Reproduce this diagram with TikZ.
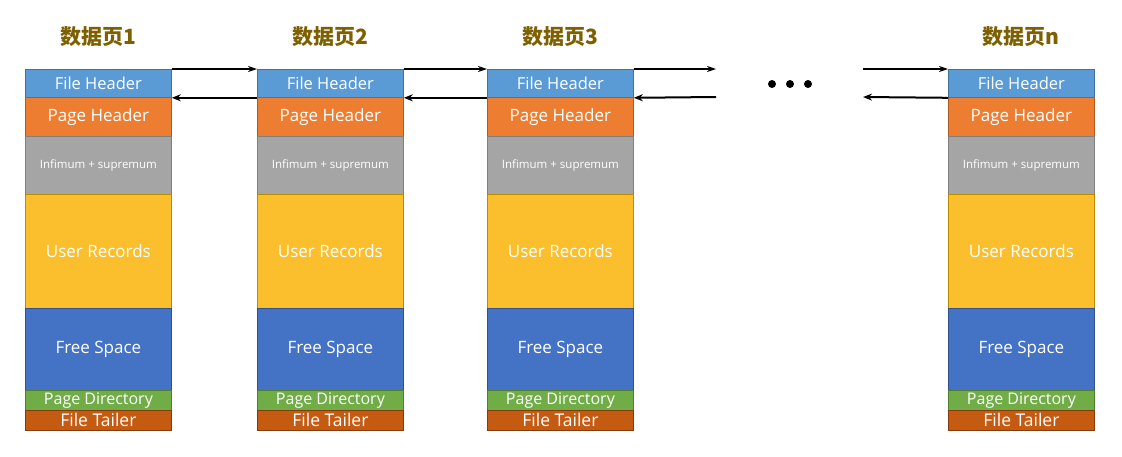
\documentclass[tikz,border=0pt]{standalone}
\usepackage{fontspec}
\setmainfont{Open Sans}
\newfontfamily\cjk{Noto Sans CJK SC}
\usetikzlibrary{arrows.meta}
\definecolor{fhF}{HTML}{5B9BD5}\definecolor{fhB}{HTML}{41719C}
\definecolor{phF}{HTML}{ED7D31}\definecolor{phB}{HTML}{AE5A21}
\definecolor{inF}{HTML}{A5A5A5}\definecolor{inB}{HTML}{7F7F7F}
\definecolor{urF}{HTML}{FBBF2D}\definecolor{urB}{HTML}{BC8C00}
\definecolor{fsF}{HTML}{4472C4}\definecolor{fsB}{HTML}{2F528F}
\definecolor{pdF}{HTML}{70AD47}\definecolor{pdB}{HTML}{507E32}
\definecolor{ftF}{HTML}{C55A11}\definecolor{ftB}{HTML}{843C0C}
\definecolor{titleC}{HTML}{7F6000}
\tikzset{
  seg/.style={draw=#1B, fill=#1F, line width=0.8pt, minimum width=146pt, inner sep=0pt, anchor=north west, text=white},
  title/.style={font=\cjk\bfseries\fontsize{21}{23}\selectfont, text=titleC, inner sep=0pt},
  fwd/.style={line width=1.1pt, -{Stealth[length=9pt,width=6pt]}},
  bwd/.style={line width=2pt, -{Stealth[length=9pt,width=7pt]}},
  dot/.style={circle, fill=black, inner sep=0pt, minimum size=8pt},
}
\begin{document}
\begin{tikzpicture}[x=1pt,y=-1pt]
\useasboundingbox (0,0) rectangle (1122,456);
\foreach \i/\x/\t in {1/25/1,2/257/2,3/487/3,n/948/n}{
  \node[title] (t\i) at (\x+73,37) {数据页\t};
  \node[seg=fh, minimum height=28pt, font=\fontsize{16.5}{18}\selectfont] (fh\i) at (\x,69) {File Header};
  \node[seg=ph, minimum height=39pt, font=\fontsize{17}{19}\selectfont] (ph\i) at (\x,97) {Page Header};
  \node[seg=in, minimum height=58pt, font=\fontsize{11.5}{13}\selectfont] (in\i) at (\x,136) {Infimum + supremum};
  \node[seg=ur, minimum height=114pt, font=\fontsize{17}{19}\selectfont] (ur\i) at (\x,194) {User Records};
  \node[seg=fs, minimum height=82pt, font=\fontsize{17}{19}\selectfont] (fs\i) at (\x,308) {Free Space};
  \node[seg=pd, minimum height=20pt, font=\fontsize{16}{18}\selectfont] (pd\i) at (\x,390) {Page Directory};
  \node[seg=ft, minimum height=20pt, font=\fontsize{17.5}{19}\selectfont] (ft\i) at (\x,410) {File Tailer};
}
\coordinate (a3) at (716,69);
\coordinate (b3) at (716,97);
\coordinate (an) at (863,69);
\coordinate (bn) at (863,97);
\draw[fwd] (fh1.north east) -- (fh2.north west);
\draw[bwd] (fh2.south west) -- (fh1.south east);
\draw[fwd] (fh2.north east) -- (fh3.north west);
\draw[bwd] (fh3.south west) -- (fh2.south east);
\draw[fwd] (fh3.north east) -- (a3);
\draw[bwd] (b3) -- (fh3.south east);
\draw[fwd] (an) -- (fhn.north west);
\draw[bwd] (fhn.south west) -- (bn);
\node[dot] (d1) at (772,84) {};
\node[dot] (d2) at (790,84) {};
\node[dot] (d3) at (808,84) {};
\end{tikzpicture}
\end{document}
